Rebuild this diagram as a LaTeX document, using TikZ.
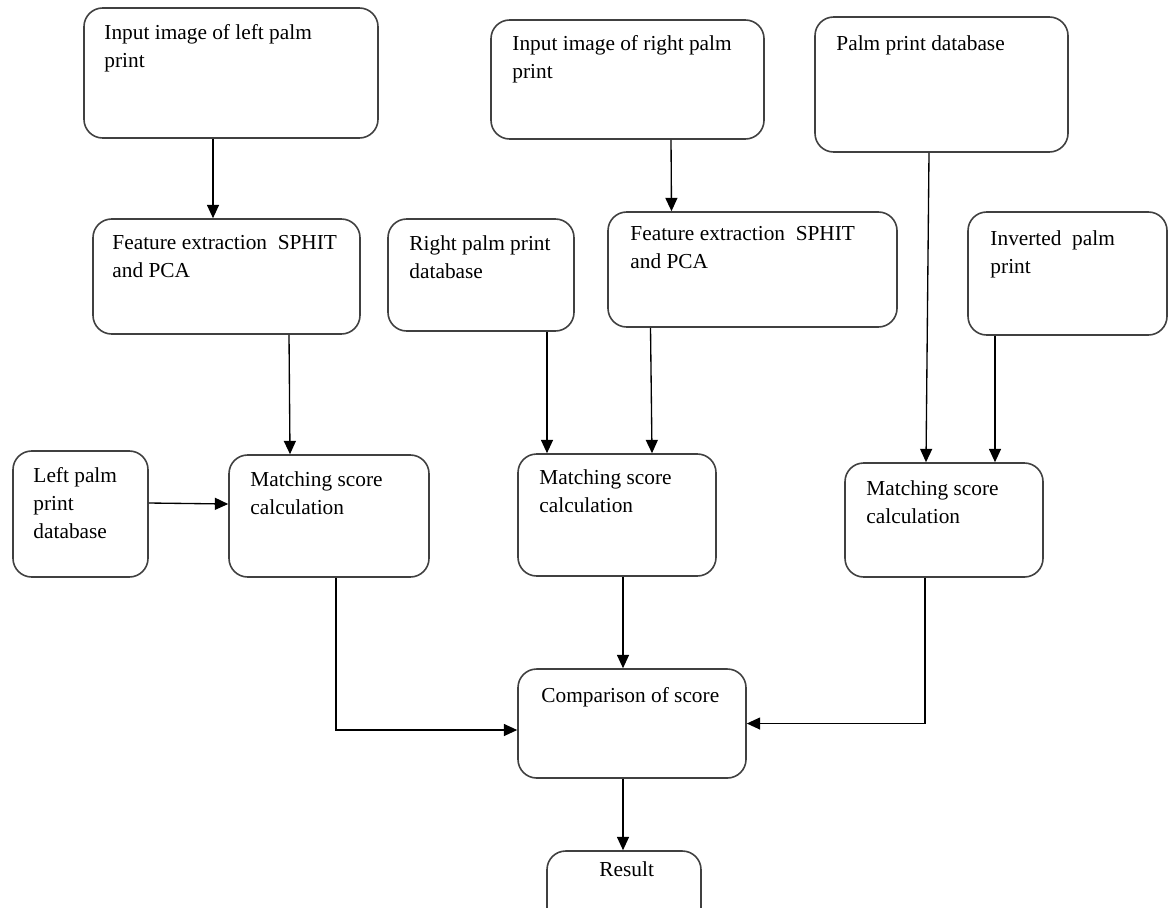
\documentclass[tikz,border=0pt]{standalone}
\usepackage{fontspec}
\setmainfont{Liberation Serif}
\usetikzlibrary{positioning,fit,calc,arrows.meta}
\tikzset{
  box/.style={draw=black!75, line width=1.2pt, rounded corners=14pt, inner sep=0pt},
  txt/.style={inner sep=0pt, align=left, font=\fontsize{16}{21}\selectfont},
  arr/.style={line width=1pt, -{Triangle[length=10pt,width=9pt]}}
}
\begin{document}
\begin{tikzpicture}[x=0.75pt,y=-0.75pt]
\useasboundingbox (0,0) rectangle (1169,907);
\clip (0,0) rectangle (1169,907);
% input images and database (top row)
\node[box, fit={(84,8) (378,138)}] (inl) {};
\node[txt, below right=13pt and 15.75pt of inl.north west] (inl-t) {Input image of left palm\\print};
\node[box, fit={(491,20) (764,139)}] (inr) {};
\node[txt, below right=12.25pt and 16.5pt of inr.north west] (inr-t) {Input image of right palm\\print};
\node[box, fit={(815,17) (1068,152)}] (ppdb) {};
\node[txt, below right=14.5pt and 16.5pt of ppdb.north west] (ppdb-t) {Palm print database};
% feature extraction row
\node[box, fit={(93,219) (360,334)}] (fel) {};
\node[txt, below right=13pt and 15pt of fel.north west] (fel-t) {Feature extraction~ SPHIT\\and PCA};
\node[box, fit={(388,219) (574,331)}] (rpdb) {};
\node[txt, below right=13pt and 16.5pt of rpdb.north west] (rpdb-t) {Right palm print\\database};
\node[box, fit={(608,212) (897,327)}] (fer) {};
\node[txt, below right=11.5pt and 17.25pt of fer.north west] (fer-t) {Feature extraction~ SPHIT\\and PCA};
\node[box, fit={(968,212) (1167,335)}] (inv) {};
\node[txt, below right=14.5pt and 17.25pt of inv.north west] (inv-t) {Inverted~ palm\\print};
% matching row
\node[box, fit={(13,451) (148,577)}] (ldb) {};
\node[txt, below right=13pt and 15.75pt of ldb.north west] (ldb-t) {Left palm\\print\\database};
\node[box, fit={(229,455) (429,577)}] (ms1) {};
\node[txt, below right=13pt and 16.5pt of ms1.north west] (ms1-t) {Matching score\\calculation};
\node[box, fit={(518,454) (716,576)}] (ms2) {};
\node[txt, below right=12.25pt and 16.5pt of ms2.north west] (ms2-t) {Matching score\\calculation};
\node[box, fit={(845,463) (1043,577)}] (ms3) {};
\node[txt, below right=13.75pt and 16.5pt of ms3.north west] (ms3-t) {Matching score\\calculation};
% comparison and result
\node[box, fit={(518,669) (746,778)}] (cmp) {};
\node[txt, below right=14.5pt and 18pt of cmp.north west] (cmp-t) {Comparison of score};
\node[box, fit={(547,851) (701,930)}] (res) {};
\node[txt, below right=8.5pt and 39.75pt of res.north west] (res-t) {Result};
% connectors
\draw[arr] ($(inl.south)+(-18,0)$) -- ($(fel.north)+(-13.5,0)$);
\draw[arr] ($(inr.south)+(43.5,0)$) -- ($(fer.north)+(-81,0)$);
\draw[arr] ($(ppdb.south)+(-12.5,0)$) -- ($(ms3.north)+(-18,0)$);
\draw[arr] ($(inv.south)+(-72.5,0)$) -- ($(ms3.north)+(51,0)$);
\draw[arr] ($(fel.south)+(62.5,0)$) -- ($(ms1.north)+(-39,0)$);
\draw[arr] ($(rpdb.south)+(66,0)$) -- ($(ms2.north)+(-70,0)$);
\draw[arr] ($(fer.south)+(-102,0)$) -- ($(ms2.north)+(35,0)$);
\draw[arr] ($(ldb.east)+(0,-11)$) -- ($(ms1.west)+(0,-12)$);
\draw[arr] ($(ms1.south)+(7,0)$) |- ($(cmp.west)+(0,6.5)$);
\draw[arr] ($(ms2.south)+(6,0)$) -- ($(cmp.north)+(-9,0)$);
\draw[arr] ($(ms3.south)+(-19,0)$) |- (cmp.east);
\draw[arr] ($(cmp.south)+(-9,0)$) -- ($(res.north)+(-1,0)$);
\end{tikzpicture}
\end{document}
